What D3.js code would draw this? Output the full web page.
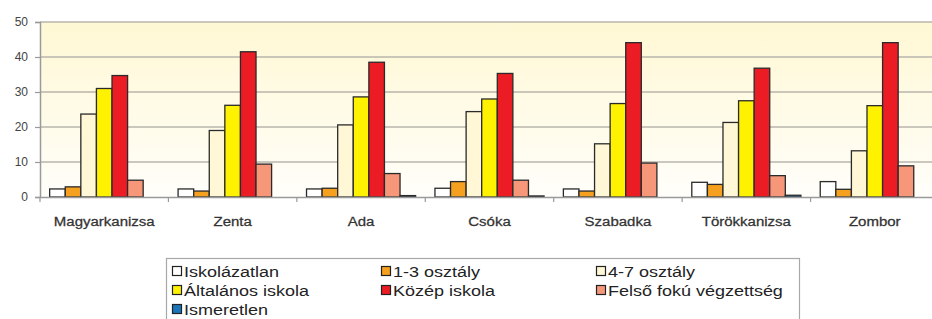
<!DOCTYPE html>
<html>
<head>
<meta charset="utf-8">
<script src="https://cdn.jsdelivr.net/npm/d3@7"></script>
<style>
  body { margin: 0; background: #fff; }
  svg { display: block; font-family: Arial, "Liberation Sans", sans-serif; }
</style>
</head>
<body>
<svg class="canvas" width="932" height="319"></svg>
<script>
// data
const towns = ['Magyarkanizsa', 'Zenta', 'Ada', 'Csóka', 'Szabadka', 'Törökkanizsa', 'Zombor'];
const seriesNames = ['Iskolázatlan', '1-3 osztály', '4-7 osztály', 'Általános iskola', 'Közép iskola', 'Felső fokú végzettség', 'Ismeretlen'];
const seriesColors = ['#ffffff', '#f5a01f', '#fff7d6', '#fff200', '#ec1c24', '#f7977a', '#1a75bb'];
const iskolazatlan = [2.3, 2.3, 2.3, 2.5, 2.3, 4.2, 4.4];
const osztaly13 = [2.9, 1.7, 2.5, 4.4, 1.7, 3.6, 2.2];
const osztaly47 = [23.7, 19.0, 20.6, 24.4, 15.2, 21.3, 13.2];
const altalanos = [31.0, 26.2, 28.6, 28.0, 26.7, 27.5, 26.1];
const kozep = [34.7, 41.5, 38.5, 35.3, 44.1, 36.8, 44.1];
const felso = [4.8, 9.4, 6.7, 4.8, 9.7, 6.1, 8.9];
const ismeretlen = [0, 0, 0.4, 0.3, 0, 0.5, 0];
const yTicks = [0, 10, 20, 30, 40, 50];

const seriesValues = [iskolazatlan, osztaly13, osztaly47, altalanos, kozep, felso, ismeretlen];

const svg = d3.select('.canvas');
const plot = { left: 40, right: 939, top: 22, bottom: 197 };
const stretch = 1.2; // source picture is stretched horizontally

// scales
const x0 = d3.scaleBand().domain(towns).range([plot.left, plot.right]).padding(0);
const x1 = d3.scaleBand().domain(seriesNames).range([0, x0.bandwidth()]).paddingInner(0).paddingOuter(0.62);
const y = d3.scaleLinear().domain([0, 50]).range([plot.bottom, plot.top]);

// plot background gradient
const grad = svg.append('defs').append('linearGradient')
  .attr('id', 'bg').attr('x1', 0).attr('y1', 0).attr('x2', 0).attr('y2', 1);
grad.append('stop').attr('offset', '0%').attr('stop-color', '#fff8d4');
grad.append('stop').attr('offset', '100%').attr('stop-color', '#fffefa');
svg.append('rect')
  .attr('x', plot.left).attr('y', plot.top)
  .attr('width', plot.right - plot.left).attr('height', plot.bottom - plot.top)
  .attr('fill', 'url(#bg)');

// gridlines
svg.append('g')
  .selectAll('line')
  .data(yTicks.filter(d => d > 0))
  .enter()
  .append('line')
  .attr('x1', plot.left).attr('x2', plot.right)
  .attr('y1', d => y(d)).attr('y2', d => y(d))
  .attr('stroke', '#b9b6ad').attr('stroke-width', 1.6);

// y axis
const yAxis = d3.axisLeft(y).tickValues(yTicks).tickSize(5).tickPadding(7);
const yg = svg.append('g').attr('transform', `translate(${plot.left},0)`).call(yAxis);
yg.select('.domain').attr('stroke', '#9a9a9a').attr('stroke-width', 1.5);
yg.selectAll('.tick line').attr('stroke', '#9a9a9a').attr('stroke-width', 1.2);
yg.selectAll('.tick text')
  .attr('font-size', 12).attr('fill', '#444')
  .attr('font-family', 'Arial, "Liberation Sans", sans-serif');

// bars
const groups = svg.append('g')
  .selectAll('g')
  .data(towns)
  .enter()
  .append('g')
  .attr('transform', d => `translate(${x0(d)},0)`);

groups.selectAll('rect')
  .data((town, ti) => seriesNames.map((s, si) => ({ s, si, v: seriesValues[si][ti] })))
  .enter()
  .append('rect')
  .attr('x', d => x1(d.s))
  .attr('y', d => y(d.v))
  .attr('width', x1.bandwidth())
  .attr('height', d => y(0) - y(d.v))
  .attr('fill', d => seriesColors[d.si])
  .attr('stroke', d => (d.v > 0 ? '#2a2a2a' : 'none'))
  .attr('stroke-width', 1.3);

// x axis
const xAxis = d3.axisBottom(x0).tickSize(0).tickSizeOuter(0).tickFormat(() => '');
const xg = svg.append('g').attr('transform', `translate(0,${plot.bottom})`).call(xAxis);
xg.select('.domain').attr('stroke', '#9a9a9a').attr('stroke-width', 1.5);
xg.selectAll('.sep')
  .data(towns)
  .enter()
  .append('line')
  .attr('x1', d => x0(d)).attr('x2', d => x0(d))
  .attr('y1', 0).attr('y2', 5)
  .attr('stroke', '#9a9a9a').attr('stroke-width', 1.2);
xg.selectAll('.lbl')
  .data(towns)
  .enter()
  .append('text')
  .attr('transform', d => `translate(${x0(d) + x0.bandwidth() / 2},29) scale(1.25,1)`)
  .attr('text-anchor', 'middle')
  .attr('font-size', 12)
  .attr('fill', '#333')
  .attr('stroke', '#333').attr('stroke-width', 0.25)
  .text(d => d);

// legend
const legend = svg.append('g');
legend.append('rect')
  .attr('x', 166.5).attr('y', 258.5).attr('width', 633).attr('height', 70)
  .attr('fill', '#fff').attr('stroke', '#a8a8a8').attr('stroke-width', 1.2);
const colX = [172, 381, 596];
const rowY = [271, 290, 309];
const items = legend.selectAll('.item')
  .data(seriesNames)
  .enter()
  .append('g')
  .attr('transform', (d, i) => `translate(${colX[i % 3]},${rowY[Math.floor(i / 3)]})`);
items.append('rect')
  .attr('x', 0.5).attr('y', -4.5).attr('width', 9).attr('height', 9)
  .attr('fill', (d, i) => seriesColors[i])
  .attr('stroke', '#222').attr('stroke-width', 1.2);
items.append('text')
  .attr('transform', `translate(12,5.5) scale(${stretch},1)`)
  .attr('font-size', 15)
  .attr('fill', '#222')
  .text(d => d);
</script>
</body>
</html>
